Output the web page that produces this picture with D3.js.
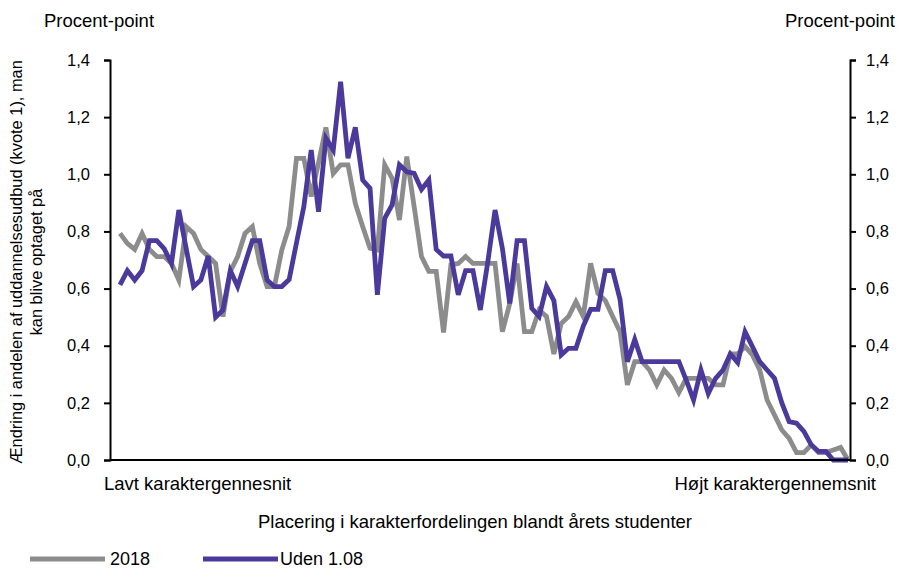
<!DOCTYPE html>
<html><head><meta charset="utf-8">
<script src="https://cdn.jsdelivr.net/npm/d3@7/dist/d3.min.js"></script>
<style>body{margin:0;background:#fff}svg text{font-family:"Liberation Sans",Arial,sans-serif;fill:#000}</style>
</head><body><svg id="c" width="897" height="568"></svg>
<script>
const yTicks = [0,0.2,0.4,0.6,0.8,1.0,1.2,1.4];
const seriesNames = ["2018","Uden 1.08"];
const series2018 = [0.793,0.758,0.737,0.793,0.737,0.712,0.712,0.688,0.63,0.817,
0.793,0.737,0.712,0.688,0.502,0.66,0.712,0.793,0.817,0.688,
0.607,0.607,0.735,0.817,1.056,1.056,0.922,1.04,1.164,1.003,
1.033,1.033,0.898,0.817,0.741,0.735,1.033,0.986,0.84,1.062,
0.887,0.712,0.66,0.66,0.446,0.683,0.688,0.712,0.688,0.688,
0.688,0.688,0.449,0.548,0.688,0.449,0.449,0.525,0.502,0.371,
0.478,0.502,0.554,0.502,0.688,0.583,0.558,0.502,0.449,0.263,
0.344,0.344,0.315,0.263,0.315,0.286,0.236,0.286,0.286,0.286,
0.286,0.263,0.263,0.371,0.371,0.397,0.368,0.315,0.21,0.158,
0.105,0.076,0.026,0.026,0.053,0.026,0.026,0.035,0.044,0.0];
const seriesUden = [0.613,0.663,0.63,0.663,0.768,0.768,0.74,0.688,0.875,0.74,
0.607,0.63,0.714,0.50,0.525,0.663,0.607,0.688,0.768,0.768,
0.63,0.607,0.607,0.632,0.76,0.887,1.085,0.869,1.126,1.085,
1.324,1.056,1.164,0.98,0.951,0.578,0.846,0.893,1.033,1.009,
1.003,0.947,0.98,0.737,0.714,0.714,0.578,0.663,0.663,0.525,
0.69,0.875,0.741,0.548,0.768,0.768,0.531,0.502,0.607,0.558,
0.368,0.391,0.391,0.469,0.527,0.527,0.663,0.663,0.562,0.344,
0.422,0.344,0.344,0.344,0.344,0.344,0.344,0.28,0.21,0.315,
0.233,0.286,0.315,0.371,0.341,0.449,0.397,0.344,0.315,0.286,
0.2,0.134,0.129,0.1,0.053,0.03,0.03,0.0,0.0,0.0];
const colors = ["#8c8c8c","#4b3a9b"];

const svg = d3.select("#c");
const x = d3.scaleLinear().domain([0, series2018.length-1]).range([120, 848]);
const y = d3.scaleLinear().domain([0, 1.4]).range([460, 60]);
const fmt = d => d3.format(".1f")(d).replace(".", ",");

const la = svg.append("g").attr("transform","translate(110,0)")
  .call(d3.axisLeft(y).tickValues(yTicks).tickFormat(fmt).tickSize(6).tickPadding(14));
const ra = svg.append("g").attr("transform","translate(850,0)")
  .call(d3.axisRight(y).tickValues(yTicks).tickFormat(fmt).tickSize(6).tickPadding(10));
[la,ra].forEach(a=>{
  a.select(".domain").attr("stroke","#000").attr("stroke-width",2);
  a.selectAll(".tick line").attr("stroke","#000").attr("stroke-width",2);
  a.selectAll("text").attr("font-size",16.5).attr("font-family","Liberation Sans, Arial, sans-serif").attr("fill","#000");
});

const line = d3.line().x((d,i)=>x(i)).y(d=>y(d));
[series2018, seriesUden].forEach((s,k)=>{
  svg.append("path").datum(s).attr("d",line).attr("fill","none")
    .attr("stroke",colors[k]).attr("stroke-width",4.8).attr("stroke-linejoin","miter");
});
svg.append("line").attr("x1",110).attr("x2",851).attr("y1",y(0)).attr("y2",y(0))
  .attr("stroke","#000").attr("stroke-width",2);

const t = (txt,xx,yy,anchor,fs)=>svg.append("text").attr("x",xx).attr("y",yy)
  .attr("text-anchor",anchor||"start").attr("font-size",fs||18.5).text(txt);
t("Procent-point",44,27);
t("Procent-point",895,27,"end");
t("Lavt karaktergennesnit",104,490);
t("Højt karaktergennemsnit",876,490,"end");
t("Placering i karakterfordelingen blandt årets studenter",475,528,"middle");

const yt = svg.append("text").attr("transform","translate(0,262) rotate(-90)")
  .attr("text-anchor","middle").attr("font-size",16.4);
yt.append("tspan").attr("x",0).attr("y",22).text("Ændring i andelen af uddannelsesudbud (kvote 1), man");
yt.append("tspan").attr("x",0).attr("y",42).text("kan blive optaget på");

const lg = [[30,110],[203,280]];
seriesNames.forEach((n,k)=>{
  svg.append("line").attr("x1",lg[k][0]).attr("x2",lg[k][0]+75).attr("y1",559).attr("y2",559)
    .attr("stroke",colors[k]).attr("stroke-width",5);
  t(n,lg[k][1],565,"start",18);
});
</script></body></html>
